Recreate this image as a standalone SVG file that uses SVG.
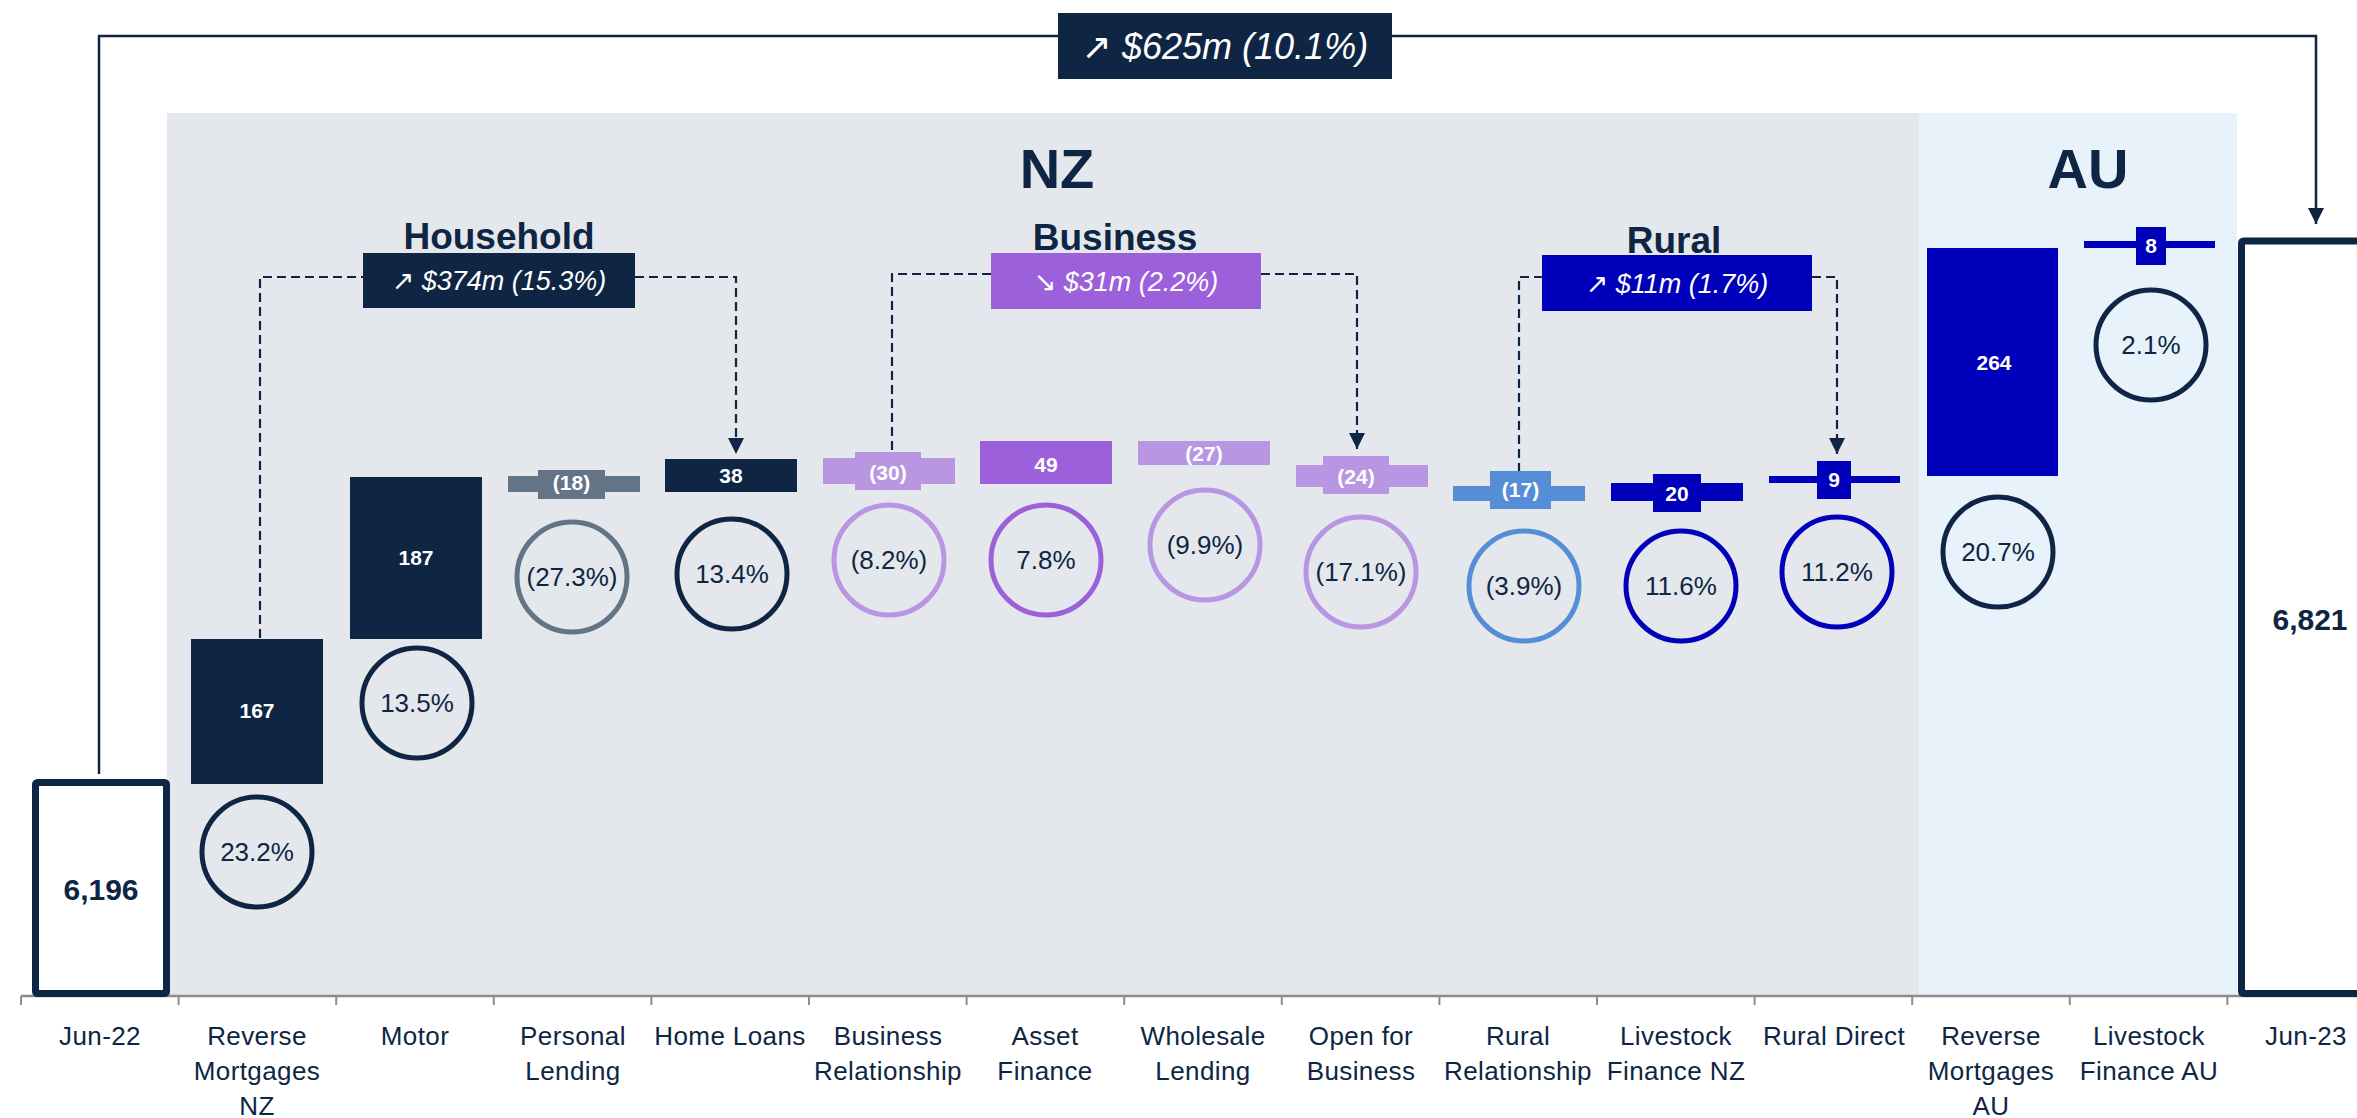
<svg xmlns="http://www.w3.org/2000/svg" width="2357" height="1118" viewBox="0 0 2357 1118">
<style>
text{font-family:"Liberation Sans","DejaVu Sans",sans-serif}
.nav{fill:#0e2643}.gry{fill:#647487}.lpu{fill:#b896e2}.pur{fill:#9c60db}.mbl{fill:#558ed6}.blu{fill:#0000bb}
.bl{fill:#fff;font-weight:bold;font-size:21px;text-anchor:middle}
.pc{fill:none;stroke-width:5}
.pt{fill:#0e2643;font-size:26px;text-anchor:middle}
.cat{fill:#0e2643;font-size:26px;text-anchor:middle;letter-spacing:0.4px}
.ttl{fill:#0e2643;font-weight:bold;text-anchor:middle}
.gt{fill:#fff;font-style:italic;font-size:27px;text-anchor:middle}
.gt.big{font-size:36px}
.dash{fill:none;stroke:#0e2643;stroke-width:2.2;stroke-dasharray:9 5}
.tot{fill:#fff;stroke:#0e2643;stroke-width:7}
</style>
<defs>
<marker id="ah" viewBox="0 0 10 10" refX="10" refY="5" markerWidth="16" markerHeight="16" markerUnits="userSpaceOnUse" orient="auto">
<path d="M0,0 L10,5 L0,10 Z" fill="#0e2643"/>
</marker>
</defs>
<rect width="2357" height="1118" fill="#fff"/>
<g id="regions">
<rect x="167" y="113" width="1752" height="883" fill="#e4e8ec"/>
<rect x="1919" y="113" width="318" height="883" fill="#e8f2fb"/>
<text class="ttl" x="1057" y="188" font-size="56">NZ</text>
<text class="ttl" x="2088" y="188" font-size="56">AU</text>
</g>
<g id="axis">
<line x1="21" y1="996" x2="2357" y2="996" stroke="#8c8c8c" stroke-width="2.5"/>
<path d="M21,996v9M178.6,996v9M336.2,996v9M493.8,996v9M651.4,996v9M809,996v9M966.6,996v9M1124.2,996v9M1281.8,996v9M1439.4,996v9M1597,996v9M1754.6,996v9M1912.2,996v9M2069.8,996v9M2227.4,996v9" stroke="#8c8c8c" stroke-width="2"/>
</g>
<g id="connectors">
<path d="M99,774 V36 H2316 V224" fill="none" stroke="#0e2643" stroke-width="2.5" marker-end="url(#ah)"/>
<path class="dash" d="M260,638 V277 H363"/>
<path class="dash" d="M635,277 H736 V454" marker-end="url(#ah)"/>
<path class="dash" d="M892,450 V274 H991"/>
<path class="dash" d="M1261,274 H1357 V449" marker-end="url(#ah)"/>
<path class="dash" d="M1519,472 V277 H1542"/>
<path class="dash" d="M1812,277 H1837 V454" marker-end="url(#ah)"/>
</g>
<g id="total-change">
<rect class="nav" x="1058" y="13" width="334" height="66"/>
<text class="gt big" x="1225" y="59">↗ $625m (10.1%)</text>
</g>
<g id="household">
<text class="ttl" x="499" y="249" font-size="37">Household</text>
<rect class="nav" x="363" y="253" width="272" height="55"/>
<text class="gt" x="499" y="290">↗ $374m (15.3%)</text>
</g>
<g id="business">
<text class="ttl" x="1115" y="250" font-size="37">Business</text>
<rect class="pur" x="991" y="253" width="270" height="56"/>
<text class="gt" x="1126" y="291">↘ $31m (2.2%)</text>
</g>
<g id="rural">
<text class="ttl" x="1674" y="253" font-size="37">Rural</text>
<rect class="blu" x="1542" y="255" width="270" height="56"/>
<text class="gt" x="1677" y="293">↗ $11m (1.7%)</text>
</g>
<g id="jun-22">
<rect class="tot" x="35.5" y="782.5" width="131" height="211" rx="2"/>
<text x="101" y="900" font-size="30" font-weight="bold" fill="#0e2643" text-anchor="middle">6,196</text>
<text class="cat" x="100" y="1045">Jun-22</text>
</g>
<g id="reverse-mortgages-nz">
<rect class="nav" x="191" y="639" width="132" height="145"/>
<text class="bl" x="257" y="718">167</text>
<circle class="pc" cx="257" cy="852" r="55" stroke="#0e2643"/>
<text class="pt" x="257" y="861">23.2%</text>
<text class="cat" x="257" y="1045">Reverse</text>
<text class="cat" x="257" y="1080">Mortgages</text>
<text class="cat" x="257" y="1115">NZ</text>
</g>
<g id="motor">
<rect class="nav" x="350" y="477" width="132" height="162"/>
<text class="bl" x="416" y="565">187</text>
<circle class="pc" cx="417" cy="703" r="55" stroke="#0e2643"/>
<text class="pt" x="417" y="712">13.5%</text>
<text class="cat" x="415" y="1045">Motor</text>
</g>
<g id="personal-lending">
<rect class="gry" x="508" y="476" width="132" height="16"/>
<rect class="gry" x="538" y="470" width="67" height="29"/>
<text class="bl" x="571.5" y="490">(18)</text>
<circle class="pc" cx="572" cy="577" r="55" stroke="#647487"/>
<text class="pt" x="572" y="586">(27.3%)</text>
<text class="cat" x="573" y="1045">Personal</text>
<text class="cat" x="573" y="1080">Lending</text>
</g>
<g id="home-loans">
<rect class="nav" x="665" y="459" width="132" height="33"/>
<text class="bl" x="731" y="483">38</text>
<circle class="pc" cx="732" cy="574" r="55" stroke="#0e2643"/>
<text class="pt" x="732" y="583">13.4%</text>
<text class="cat" x="730" y="1045">Home Loans</text>
</g>
<g id="business-relationship">
<rect class="lpu" x="823" y="458" width="132" height="26"/>
<rect class="lpu" x="855" y="452" width="66" height="38"/>
<text class="bl" x="888" y="480">(30)</text>
<circle class="pc" cx="889" cy="560" r="55" stroke="#b896e2"/>
<text class="pt" x="889" y="569">(8.2%)</text>
<text class="cat" x="888" y="1045">Business</text>
<text class="cat" x="888" y="1080">Relationship</text>
</g>
<g id="asset-finance">
<rect class="pur" x="980" y="441" width="132" height="43"/>
<text class="bl" x="1046" y="472">49</text>
<circle class="pc" cx="1046" cy="560" r="55" stroke="#9c60db"/>
<text class="pt" x="1046" y="569">7.8%</text>
<text class="cat" x="1045" y="1045">Asset</text>
<text class="cat" x="1045" y="1080">Finance</text>
</g>
<g id="wholesale-lending">
<rect class="lpu" x="1138" y="441" width="132" height="24"/>
<text class="bl" x="1204" y="461">(27)</text>
<circle class="pc" cx="1205" cy="545" r="55" stroke="#b896e2"/>
<text class="pt" x="1205" y="554">(9.9%)</text>
<text class="cat" x="1203" y="1045">Wholesale</text>
<text class="cat" x="1203" y="1080">Lending</text>
</g>
<g id="open-for-business">
<rect class="lpu" x="1296" y="465" width="132" height="22"/>
<rect class="lpu" x="1323" y="456" width="66" height="38"/>
<text class="bl" x="1356" y="484">(24)</text>
<circle class="pc" cx="1361" cy="572" r="55" stroke="#b896e2"/>
<text class="pt" x="1361" y="581">(17.1%)</text>
<text class="cat" x="1361" y="1045">Open for</text>
<text class="cat" x="1361" y="1080">Business</text>
</g>
<g id="rural-relationship">
<rect class="mbl" x="1453" y="486" width="132" height="15"/>
<rect class="mbl" x="1490" y="471" width="61" height="38"/>
<text class="bl" x="1520.5" y="497">(17)</text>
<circle class="pc" cx="1524" cy="586" r="55" stroke="#558ed6"/>
<text class="pt" x="1524" y="595">(3.9%)</text>
<text class="cat" x="1518" y="1045">Rural</text>
<text class="cat" x="1518" y="1080">Relationship</text>
</g>
<g id="livestock-finance-nz">
<rect class="blu" x="1611" y="483" width="132" height="18"/>
<rect class="blu" x="1653" y="474" width="48" height="38"/>
<text class="bl" x="1677" y="501">20</text>
<circle class="pc" cx="1681" cy="586" r="55" stroke="#0000bb"/>
<text class="pt" x="1681" y="595">11.6%</text>
<text class="cat" x="1676" y="1045">Livestock</text>
<text class="cat" x="1676" y="1080">Finance NZ</text>
</g>
<g id="rural-direct">
<rect class="blu" x="1769" y="476" width="131" height="7"/>
<rect class="blu" x="1817" y="461" width="34" height="38"/>
<text class="bl" x="1834" y="487">9</text>
<circle class="pc" cx="1837" cy="572" r="55" stroke="#0000bb"/>
<text class="pt" x="1837" y="581">11.2%</text>
<text class="cat" x="1834" y="1045">Rural Direct</text>
</g>
<g id="reverse-mortgages-au">
<rect class="blu" x="1927" y="248" width="131" height="228"/>
<text class="bl" x="1994" y="370">264</text>
<circle class="pc" cx="1998" cy="552" r="55" stroke="#0e2643"/>
<text class="pt" x="1998" y="561">20.7%</text>
<text class="cat" x="1991" y="1045">Reverse</text>
<text class="cat" x="1991" y="1080">Mortgages</text>
<text class="cat" x="1991" y="1115">AU</text>
</g>
<g id="livestock-finance-au">
<rect class="blu" x="2084" y="241" width="131" height="7"/>
<rect class="blu" x="2136" y="227" width="30" height="38"/>
<text class="bl" x="2151" y="253">8</text>
<circle class="pc" cx="2151" cy="345" r="55" stroke="#0e2643"/>
<text class="pt" x="2151" y="354">2.1%</text>
<text class="cat" x="2149" y="1045">Livestock</text>
<text class="cat" x="2149" y="1080">Finance AU</text>
</g>
<g id="jun-23">
<rect class="tot" x="2241.5" y="241" width="131" height="752.5" rx="2"/>
<text x="2310" y="630" font-size="30" font-weight="bold" fill="#0e2643" text-anchor="middle">6,821</text>
<text class="cat" x="2306" y="1045">Jun-23</text>
</g>
</svg>
